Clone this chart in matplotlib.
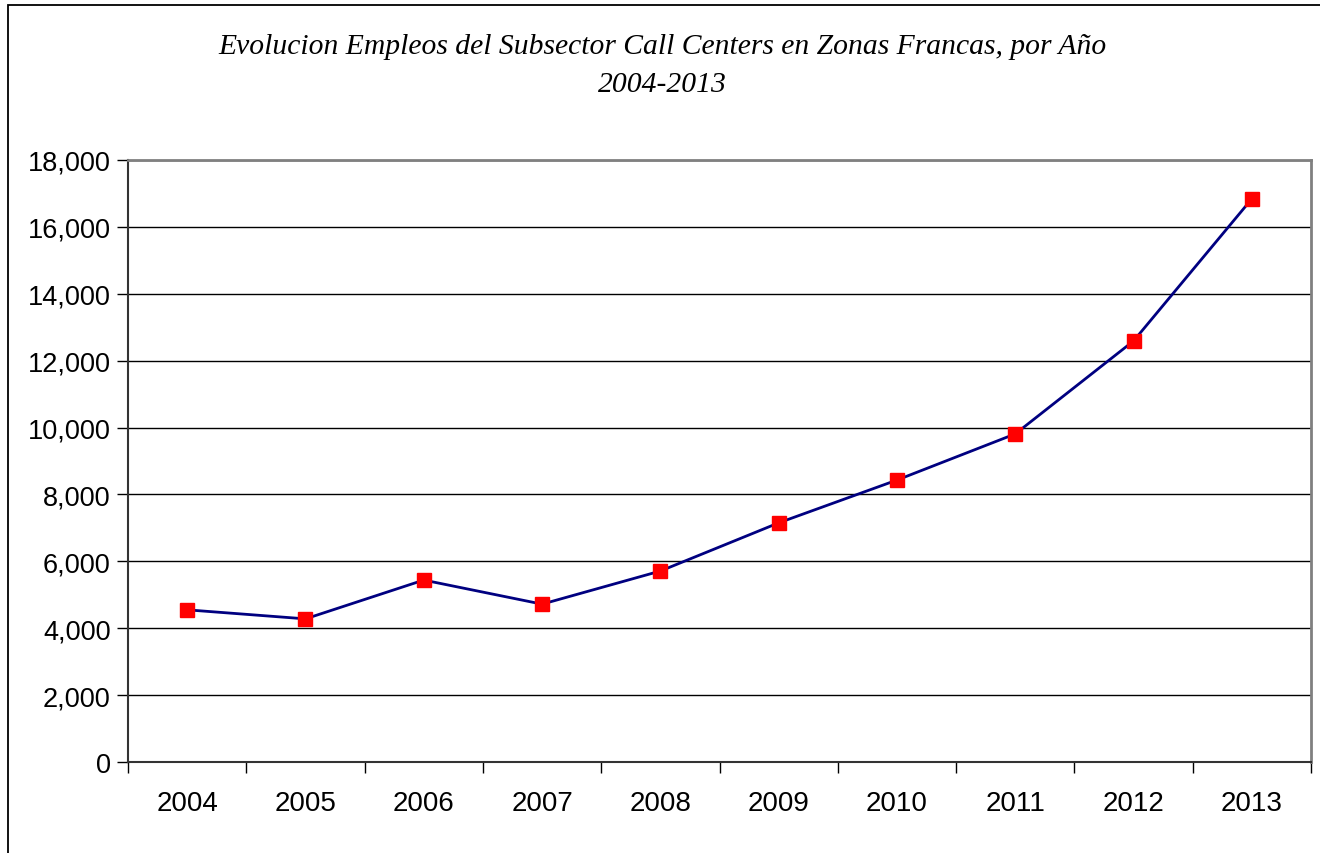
import matplotlib
matplotlib.use("Agg")
import matplotlib.pyplot as plt
from matplotlib.patches import Rectangle
from matplotlib.ticker import FuncFormatter, FixedLocator

years = ["2004", "2005", "2006", "2007", "2008", "2009", "2010", "2011", "2012", "2013"]
empleos = [4550, 4280, 5440, 4720, 5710, 7150, 8430, 9810, 12590, 16840]
title = "Evolucion Empleos del Subsector Call Centers en Zonas Francas, por Año\n2004-2013"

W, H = 1320, 854
fig = plt.figure(figsize=(W / 100, H / 100), dpi=100)
fig.patch.set_facecolor("white")

# outer chart border (left and top visible)
fig.add_artist(Rectangle((8 / W, -0.05), 1.1, 1 - 6 / H + 0.05, transform=fig.transFigure,
                         fill=False, edgecolor="black", linewidth=1.3))

ax = fig.add_axes([128 / W, 1 - 763 / H, (1311 - 128) / W, (763 - 161) / H])
x = list(range(len(years)))
ax.plot(x, empleos, color="#000080", linewidth=2, marker="s", markersize=10.5,
        markerfacecolor="#ff0000", markeredgecolor="#ff0000", zorder=5, clip_on=False)

ax.set_xlim(-0.5, len(years) - 0.5)
ax.set_ylim(0, 18000)
ax.set_yticks(range(0, 18001, 2000))
ax.yaxis.set_major_formatter(FuncFormatter(lambda v, p: f"{int(v):,}"))
ax.grid(axis="y", color="black", linewidth=1)
ax.set_axisbelow(True)

ax.xaxis.set_major_locator(FixedLocator([i - 0.5 for i in range(len(years) + 1)]))
ax.xaxis.set_minor_locator(FixedLocator(x))
ax.set_xticklabels([])
ax.set_xticklabels(years, minor=True)
ax.tick_params(axis="x", which="major", length=8, width=1, color="black", direction="out")
ax.tick_params(axis="x", which="minor", length=0, pad=20, labelsize=20)
ax.tick_params(axis="y", length=8, width=1, color="black", direction="out", pad=4.5, labelsize=19.5)
for lab in ax.get_xticklabels(minor=True) + ax.get_yticklabels():
    lab.set_fontfamily("Liberation Sans")

ax.spines["left"].set_color("#333333")
ax.spines["bottom"].set_color("#333333")
ax.spines["left"].set_linewidth(1.5)
ax.spines["bottom"].set_linewidth(1.5)
ax.spines["top"].set_color("#808080")
ax.spines["right"].set_color("#808080")
ax.spines["top"].set_linewidth(2)
ax.spines["right"].set_linewidth(2)

fig.text(662 / W, 1 - 65.5 / H, title, ha="center", va="center", fontsize=21.3,
         fontstyle="italic", fontfamily="Liberation Serif", linespacing=1.6)

fig.savefig("out.png", dpi=100, facecolor="white")
